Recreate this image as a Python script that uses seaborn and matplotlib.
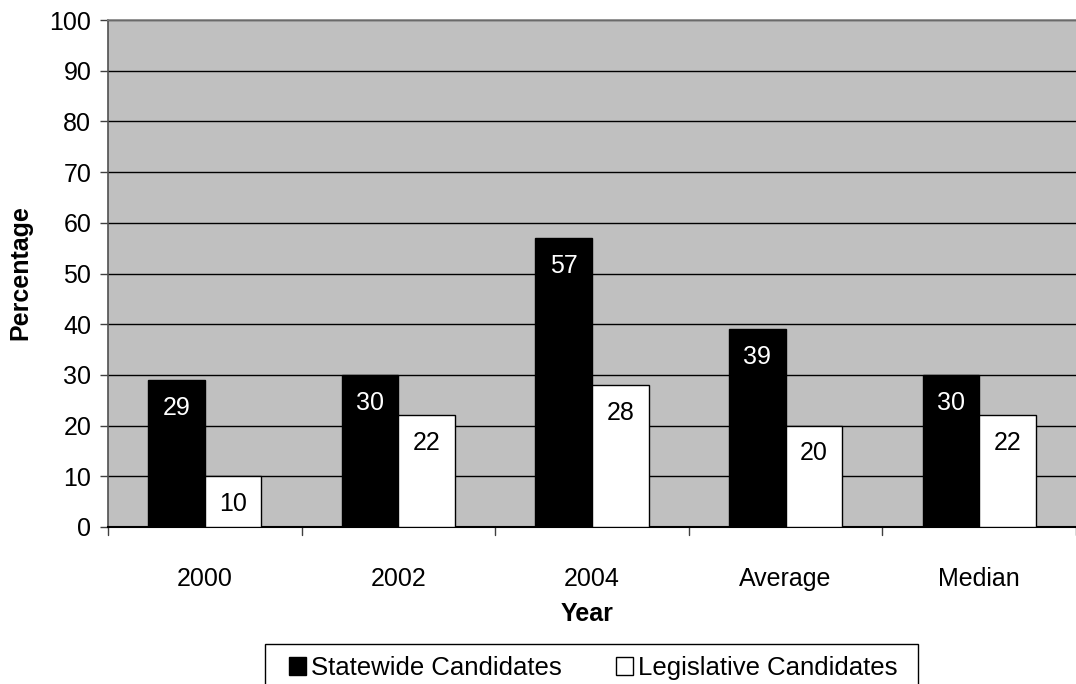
import matplotlib
matplotlib.use("Agg")
import matplotlib.pyplot as plt
from matplotlib.patches import Patch, Rectangle
import seaborn as sns
import pandas as pd

# Share of candidates, by election year plus summary columns
categories = ["2000", "2002", "2004", "Average", "Median"]
statewide = [29, 30, 57, 39, 30]
legislative = [10, 22, 28, 20, 22]
series_names = ["Statewide Candidates", "Legislative Candidates"]
y_ticks = list(range(0, 101, 10))

df = pd.DataFrame({
    "Year": categories * 2,
    "Percentage": statewide + legislative,
    "Group": [series_names[0]] * len(categories) + [series_names[1]] * len(categories),
})

sns.set_theme(style="white")
plt.rcParams["font.family"] = ["Liberation Sans", "DejaVu Sans"]
plt.rcParams["text.color"] = "black"
plt.rcParams["xtick.color"] = "black"
plt.rcParams["ytick.color"] = "black"
plt.rcParams["axes.labelcolor"] = "black"

FS = 18
W, H = 1076, 684

fig = plt.figure(figsize=(W / 100, H / 100), dpi=100)
ax = fig.add_axes([108 / W, 1 - 527 / H, 968 / W, 507 / H])
ax.set_facecolor("#C0C0C0")

palette = {series_names[0]: "black", series_names[1]: "white"}
sns.barplot(data=df, x="Year", y="Percentage", hue="Group", order=categories,
            hue_order=series_names, palette=palette, width=0.585, gap=0,
            edgecolor="black", linewidth=1.0, saturation=1, ax=ax, legend=False,
            zorder=3)

ax.set_ylim(0, 100)
ax.set_xlim(-0.5, len(categories) - 0.5)
ax.set_yticks(y_ticks)
ax.yaxis.grid(True, color="black", linewidth=1.0, zorder=1)
ax.set_axisbelow(True)

# Value labels inside the top of each bar
text_colors = ["white", "black"]
for container, values, tc in zip(ax.containers, [statewide, legislative], text_colors):
    for patch, v in zip(container.patches, values):
        cx = patch.get_x() + patch.get_width() / 2
        ax.annotate(f"{v}", xy=(cx, v), xytext=(0, -20), textcoords="offset points",
                    ha="center", va="center", color=tc, fontsize=FS, zorder=5)

# Ticks: outward on y, category boundaries on x
ax.tick_params(axis="y", direction="out", length=6, width=1, color="#404040",
               labelsize=FS, pad=6, left=True, labelcolor="black")
ax.set_xticks(range(len(categories)))
ax.set_xticklabels(categories, fontsize=FS, color="black")
ax.tick_params(axis="x", length=0, pad=29)
for b in [i - 0.5 for i in range(len(categories) + 1)]:
    ax.plot([b, b], [0, -0.016], transform=ax.get_xaxis_transform(),
            color="#404040", lw=1, clip_on=False)

ax.spines["left"].set_color("#505050")
ax.spines["left"].set_linewidth(1.2)
ax.spines["top"].set_color("#808080")
ax.spines["top"].set_linewidth(1.2)
ax.spines["bottom"].set_color("black")
ax.spines["bottom"].set_linewidth(1.5)
ax.spines["right"].set_visible(False)

ax.set_ylabel("")
ax.set_xlabel("")
fig.text(20 / W, 1 - 273 / H, "Percentage", rotation=90, ha="center", va="center",
         fontsize=FS, fontweight="bold")
fig.text(587 / W, 1 - 614 / H, "Year", ha="center", va="center",
         fontsize=FS, fontweight="bold")

# Legend box: wide frame, bottom runs past the figure edge
fig.patches.append(Rectangle((265 / W, -0.05), (918 - 265) / W, (1 - 644 / H) + 0.05,
                             transform=fig.transFigure, facecolor="white",
                             edgecolor="black", linewidth=1.0, zorder=1))
handles = [Patch(facecolor="black", edgecolor="black", label=series_names[0]),
           Patch(facecolor="white", edgecolor="black", label=series_names[1])]
leg = fig.legend(handles=handles, loc="center", bbox_to_anchor=(593 / W, 1 - 668 / H),
                 ncol=2, fontsize=18.5, frameon=False, handlelength=0.66, handleheight=0.66,
                 handletextpad=0.2, columnspacing=2.1, borderpad=0, borderaxespad=0)
leg.set_zorder(2)

fig.savefig("out.png", dpi=100, facecolor="white")
